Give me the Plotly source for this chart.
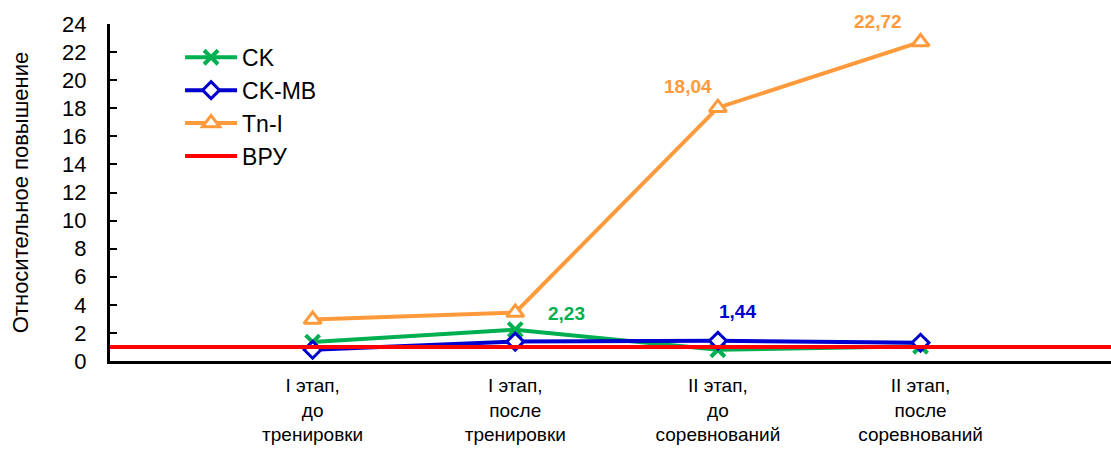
import plotly.graph_objects as go

# Stages of observation
stages = [
    "I этап,<br>до<br>тренировки",
    "I этап,<br>после<br>тренировки",
    "II этап,<br>до<br>соревнований",
    "II этап,<br>после<br>соревнований",
]
stage_pos = [1, 2, 3, 4]

# Relative increase of markers
ck = [1.35, 2.23, 0.8, 1.05]
ck_mb = [0.8, 1.38, 1.44, 1.3]
tn_i = [2.95, 3.45, 18.04, 22.72]

# Upper reference limit
vru_x = [0, 5.2]
vru = [1, 1]

y_ticks = list(range(0, 25, 2))

GREEN = "#00B050"
BLUE = "#0000CC"
ORANGE = "#FF9A3C"
RED = "#FF0000"

fig = go.Figure()

fig.add_trace(go.Scatter(
    x=stage_pos, y=ck, name="CK", mode="lines+markers",
    line=dict(color=GREEN, width=4),
    marker=dict(symbol="x-thin", size=14, line=dict(color=GREEN, width=4)),
))
fig.add_trace(go.Scatter(
    x=stage_pos, y=ck_mb, name="CK-MB", mode="lines+markers",
    line=dict(color=BLUE, width=4),
    marker=dict(symbol="diamond", size=13, color="white",
                line=dict(color=BLUE, width=3)),
))
fig.add_trace(go.Scatter(
    x=stage_pos, y=tn_i, name="Tn-I", mode="lines+markers",
    line=dict(color=ORANGE, width=4),
    marker=dict(symbol="triangle-up", size=15, color="white",
                line=dict(color=ORANGE, width=3)),
))
fig.add_trace(go.Scatter(
    x=vru_x, y=vru, name="ВРУ", mode="lines",
    line=dict(color=RED, width=4),
))


def fmt(v):
    return f"{v:.2f}".replace(".", ",")


# Value labels: (x, y, colour, x shift, y shift)
labels = [
    (stage_pos[1], ck[1], GREEN, 51, 16),
    (stage_pos[2], ck_mb[2], BLUE, 20, 29),
    (stage_pos[2], tn_i[2], ORANGE, -30, 21),
    (stage_pos[3], tn_i[3], ORANGE, -43, 20),
]
for x, y, c, dx, dy in labels:
    fig.add_annotation(
        x=x, y=y, text=fmt(y), showarrow=False,
        xshift=dx, yshift=dy,
        font=dict(family="Liberation Sans, Arial", size=19, color=c, weight="bold"),
    )

fig.update_layout(
    width=1111, height=452,
    margin=dict(l=110, r=0, t=24, b=91),
    paper_bgcolor="white", plot_bgcolor="white",
    font=dict(family="Liberation Sans, Arial", color="black"),
    showlegend=True,
    legend=dict(
        x=0.07, y=0.965, xanchor="left", yanchor="top",
        font=dict(size=23), bgcolor="rgba(0,0,0,0)",
        tracegroupgap=0, itemwidth=52,
    ),
    xaxis=dict(
        range=[0, 4.94], tickvals=stage_pos, ticktext=stages,
        showgrid=False, zeroline=False,
        showline=True, linecolor="black", linewidth=3,
        ticks="", tickfont=dict(size=19), ticklabelstandoff=5,
    ),
    yaxis=dict(
        range=[0, 24], tickvals=y_ticks,
        showgrid=False, zeroline=False,
        showline=True, linecolor="black", linewidth=3,
        ticks="inside", ticklen=7, tickwidth=2, tickcolor="black",
        tickfont=dict(size=22), ticklabelstandoff=16,
        title=dict(text="Относительное повышение", font=dict(size=22), standoff=28),
    ),
)

fig.write_html("out.html")
